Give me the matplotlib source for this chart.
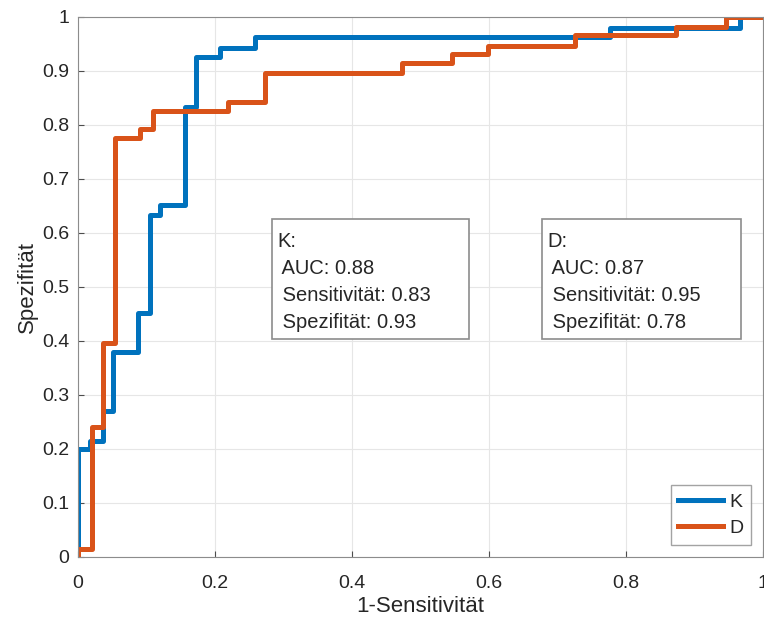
import matplotlib.pyplot as plt
from matplotlib.patches import Rectangle

# ROC step curves (x = 1-Sensitivitaet, y = Spezifitaet)
k_x = [0, 0, 0.018, 0.037, 0.051, 0.088, 0.105, 0.120, 0.156, 0.172, 0.207, 0.258, 0.777, 0.966, 1.0]
k_y = [0, 0.20, 0.215, 0.27, 0.38, 0.452, 0.633, 0.652, 0.833, 0.926, 0.943, 0.963, 0.980, 1.0, 1.0]

d_x = [0, 0, 0.020, 0.037, 0.054, 0.090, 0.110, 0.219, 0.273, 0.473, 0.546, 0.599, 0.726, 0.872, 0.945, 1.0]
d_y = [0, 0.015, 0.24, 0.396, 0.776, 0.792, 0.826, 0.843, 0.896, 0.914, 0.931, 0.946, 0.967, 0.981, 1.0, 1.0]

labels = ['K', 'D']
stats_k = ['K:', ' AUC: 0.88', ' Sensitivität: 0.83', ' Spezifität: 0.93']
stats_d = ['D:', ' AUC: 0.87', ' Sensitivität: 0.95', ' Spezifität: 0.78']

blue = '#0072BD'
orange = '#D95319'
txt = '#262626'

plt.rcParams['font.family'] = ['Liberation Sans', 'DejaVu Sans']

fig = plt.figure(figsize=(7.64, 6.27), dpi=100)
ax = fig.add_axes([0.102, 0.112, 0.897, 0.861])

ax.step(k_x, k_y, where='post', color=blue, lw=3.6, label=labels[0])
ax.step(d_x, d_y, where='post', color=orange, lw=3.6, label=labels[1])

ax.set_xlim(0, 1)
ax.set_ylim(0, 1)
ax.set_xticks([0, 0.2, 0.4, 0.6, 0.8, 1])
ax.set_xticklabels(['0', '0.2', '0.4', '0.6', '0.8', '1'])
ax.set_yticks([i / 10 for i in range(11)])
ax.set_yticklabels(['0', '0.1', '0.2', '0.3', '0.4', '0.5', '0.6', '0.7', '0.8', '0.9', '1'])
ax.grid(True, color='#e6e6e6', lw=0.8)
ax.set_axisbelow(True)
for s in ax.spines.values():
    s.set_color('#8c8c8c')
ax.tick_params(colors='#4d4d4d', labelcolor=txt, labelsize=14, direction='in', length=4)
ax.tick_params(axis='x', pad=13)
ax.tick_params(axis='y', pad=6)
ax.set_xlabel('1-Sensitivität', fontsize=16, color=txt, labelpad=3)
ax.set_ylabel('Spezifität', fontsize=16, color=txt, labelpad=3)

# annotation boxes
for x0, x1, lines in [(0.283, 0.571, stats_k), (0.677, 0.968, stats_d)]:
    ax.add_patch(Rectangle((x0, 0.403), x1 - x0, 0.222, transform=ax.transData,
                           facecolor='white', edgecolor='#8c8c8c', lw=1.2, zorder=5))
    for i, line in enumerate(lines):
        ax.text(x0 + 0.008, 0.584 - i * 0.05, line, fontsize=14.5, color=txt,
                va='center', ha='left', zorder=6)

leg = ax.legend(loc='lower right', fontsize=14, frameon=True, fancybox=False,
                edgecolor='#8c8c8c', handlelength=2.3, handletextpad=0.3, borderpad=0.4,
                labelspacing=0.45, borderaxespad=0, bbox_to_anchor=(0.982, 0.022))
leg.get_frame().set_linewidth(1.0)
for t in leg.get_texts():
    t.set_color(txt)

plt.savefig('out.png', dpi=100)
